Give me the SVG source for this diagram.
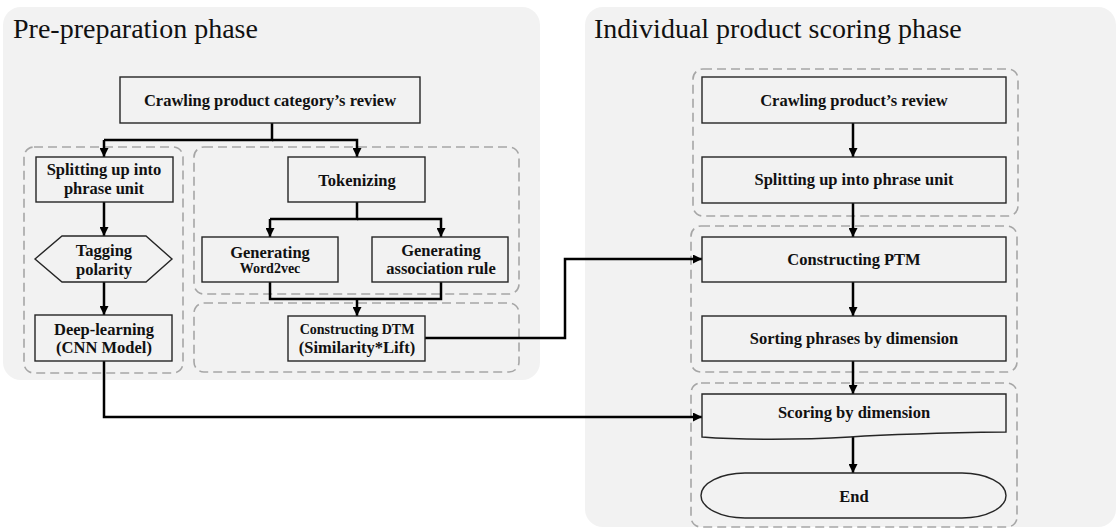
<svg xmlns="http://www.w3.org/2000/svg" width="1118" height="529" viewBox="0 0 1118 529">
<defs>
<style>
.panel{fill:#f2f2f2;stroke:none}
.title{font-family:"Liberation Serif","Times New Roman",serif;font-size:28px;fill:#111}
.grp{fill:none;stroke:#a6a6a6;stroke-width:1.6;stroke-dasharray:9 5}
.box{fill:#f2f2f2;stroke:#262626;stroke-width:1.4}
.t{font-family:"Liberation Serif","Times New Roman",serif;font-weight:bold;font-size:16.5px;fill:#111;text-anchor:middle}
.ts{font-size:14px}
.c{fill:none;stroke:#000;stroke-width:2.5}
.ca{fill:none;stroke:#000;stroke-width:2.5;marker-end:url(#ah)}
</style>
<marker id="ah" markerUnits="userSpaceOnUse" markerWidth="9" markerHeight="9" refX="9" refY="4.5" orient="auto">
<path d="M0,0 L9,4.5 L0,9 Z" fill="#000"/>
</marker>
</defs>
<rect width="1118" height="529" fill="#ffffff"/>
<g id="panels">
<rect class="panel" x="3" y="7" width="537" height="373" rx="18"/>
<rect class="panel" x="585" y="7" width="531" height="520" rx="18"/>
<text class="title" x="13" y="38">Pre-preparation phase</text>
<text class="title" x="594" y="38">Individual product scoring phase</text>
</g>
<g id="groups">
<rect class="grp" x="24" y="147" width="159" height="226" rx="10"/>
<rect class="grp" x="194" y="147" width="325" height="147" rx="10"/>
<rect class="grp" x="194" y="303" width="325" height="69" rx="10"/>
<rect class="grp" x="693" y="69" width="325" height="147" rx="10"/>
<rect class="grp" x="691" y="226" width="326" height="146" rx="10"/>
<rect class="grp" x="691" y="383" width="326" height="144" rx="10"/>
</g>
<g id="connectors">
<path class="c" d="M272,123 V140 H104"/>
<path class="ca" d="M104,140 V157"/>
<path class="ca" d="M272,140 H357 V157"/>
<path class="ca" d="M104,202 V236"/>
<path class="ca" d="M104,282 V315"/>
<path class="c" d="M357,202 V219 H270"/>
<path class="ca" d="M270,219 V237"/>
<path class="ca" d="M357,219 H441 V237"/>
<path class="c" d="M270,282 V299 H441 V282"/>
<path class="ca" d="M357,299 V316"/>
<path class="ca" d="M425,338 H565 V259 H702"/>
<path class="ca" d="M104,361 V417 H702"/>
<path class="ca" d="M853,123 V157"/>
<path class="ca" d="M853,203 V237"/>
<path class="ca" d="M853,282 V316"/>
<path class="ca" d="M853,361 V394"/>
<path class="ca" d="M853,436 V473"/>
</g>
<g id="n-crawl-cat">
<rect class="box" x="120" y="77" width="300" height="46"/>
<text class="t" x="270" y="106">Crawling product category’s review</text>
</g>
<g id="n-split-left">
<rect class="box" x="36" y="157" width="137" height="45"/>
<text class="t" x="104" y="175">Splitting up into</text>
<text class="t" x="104" y="194">phrase unit</text>
</g>
<g id="n-tag">
<polygon class="box" points="35,259 62,236 146,236 172,259 146,282 62,282"/>
<text class="t" x="104" y="256">Tagging</text>
<text class="t" x="104" y="275">polarity</text>
</g>
<g id="n-deep">
<rect class="box" x="35" y="315" width="137" height="46"/>
<text class="t" x="104" y="335">Deep-learning</text>
<text class="t" x="104" y="353">(CNN Model)</text>
</g>
<g id="n-token">
<rect class="box" x="288" y="157" width="137" height="45"/>
<text class="t" x="357" y="186">Tokenizing</text>
</g>
<g id="n-w2v">
<rect class="box" x="202" y="237" width="136" height="45"/>
<text class="t" x="270" y="258">Generating</text>
<text class="t ts" x="270" y="273">Word2vec</text>
</g>
<g id="n-assoc">
<rect class="box" x="372" y="237" width="136" height="45"/>
<text class="t" x="441" y="256">Generating</text>
<text class="t" x="441" y="274">association rule</text>
</g>
<g id="n-dtm">
<rect class="box" x="288" y="316" width="137" height="45"/>
<text class="t ts" x="357" y="334">Constructing DTM</text>
<text class="t" x="357" y="353">(Similarity*Lift)</text>
</g>
<g id="n-crawl-prod">
<rect class="box" x="702" y="77" width="304" height="46"/>
<text class="t" x="854" y="106">Crawling product’s review</text>
</g>
<g id="n-split-right">
<rect class="box" x="702" y="157" width="304" height="46"/>
<text class="t" x="854" y="185">Splitting up into phrase unit</text>
</g>
<g id="n-ptm">
<rect class="box" x="702" y="237" width="304" height="45"/>
<text class="t" x="854" y="265">Constructing PTM</text>
</g>
<g id="n-sort">
<rect class="box" x="702" y="316" width="304" height="45"/>
<text class="t" x="854" y="344">Sorting phrases by dimension</text>
</g>
<g id="n-score">
<path class="box" d="M702,394 H1006 V432 C930,433 880,435 850,437 C800,440 740,440 702,437 Z"/>
<text class="t" x="854" y="418">Scoring by dimension</text>
</g>
<g id="n-end">
<path class="box" d="M745,473 H962 A44,22.5 0 0 1 962,518 H745 A44,22.5 0 0 1 745,473 Z"/>
<text class="t" x="854" y="502">End</text>
</g>
</svg>
